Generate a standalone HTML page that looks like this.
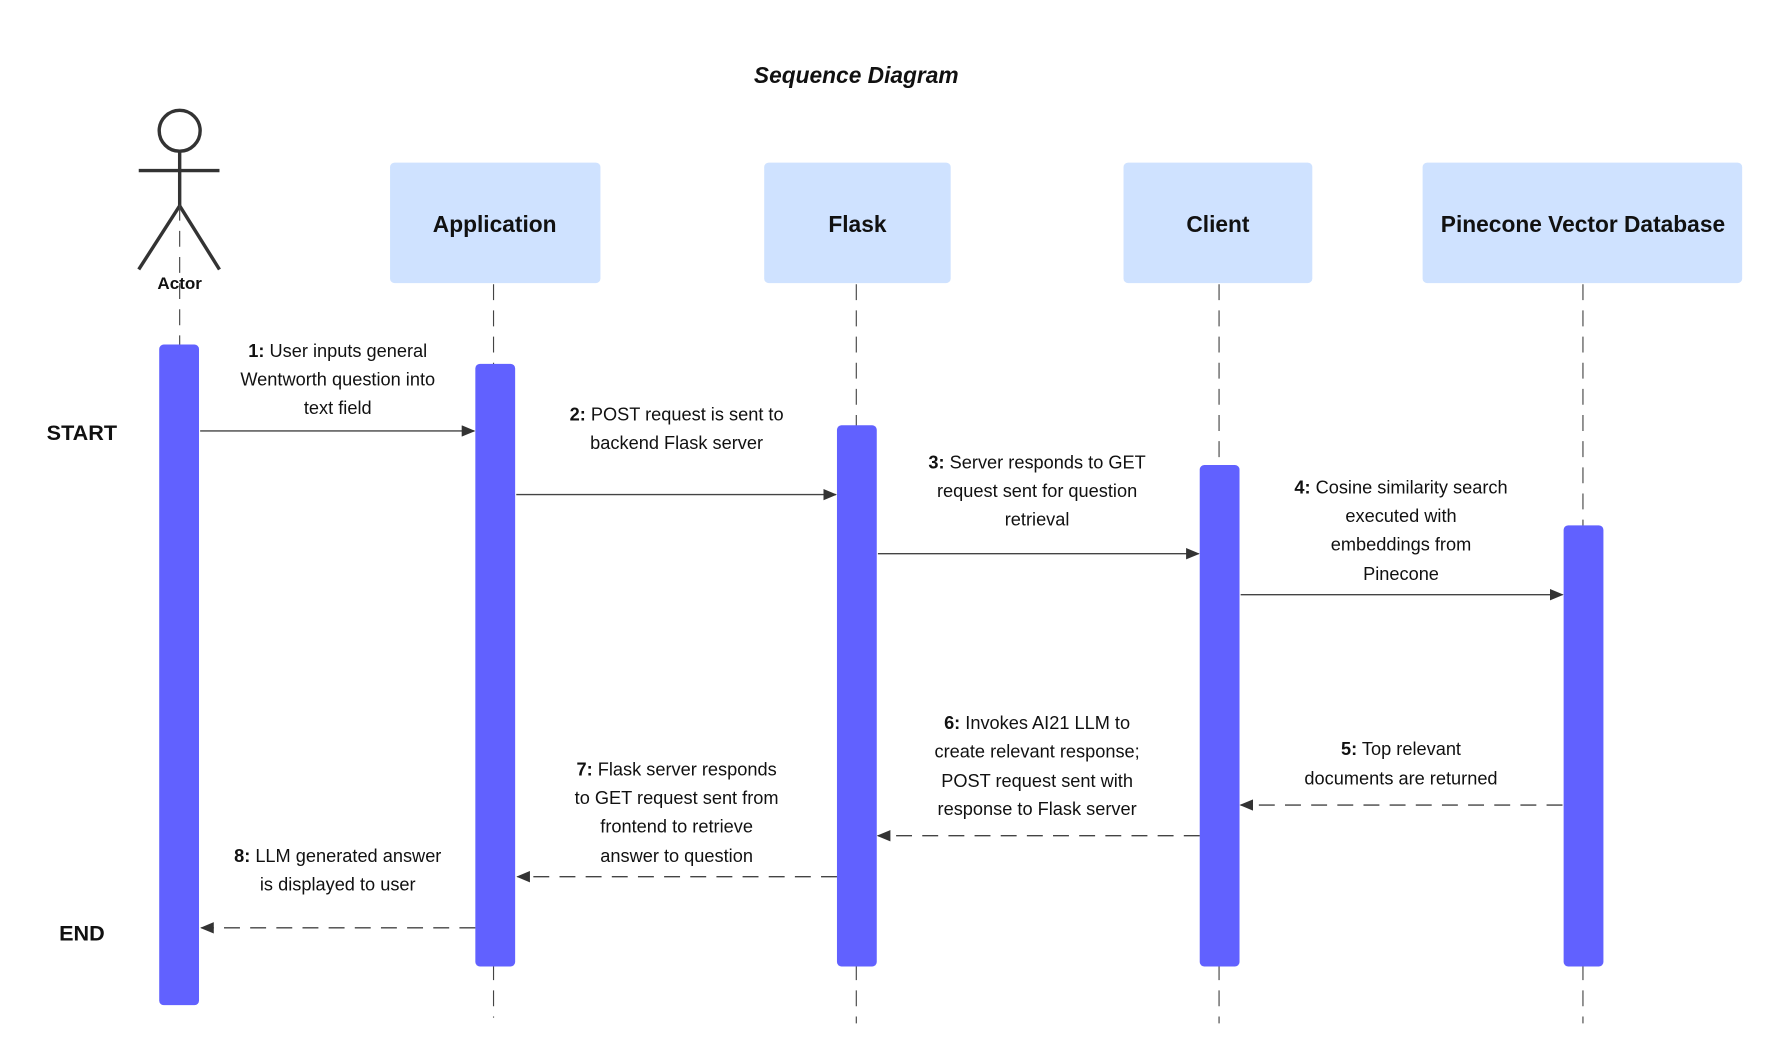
<!DOCTYPE html>
<html><head><meta charset="utf-8"><style>
html,body{margin:0;padding:0;background:#fff;width:1774px;height:1062px;overflow:hidden}
svg{display:block}
text{font-family:"Liberation Sans",sans-serif;fill:#111}
.l{font-size:16px;text-anchor:middle}
.b{font-weight:bold}
</style></head><body>
<svg width="1774" height="1062" viewBox="0 0 1560 934" preserveAspectRatio="none" xmlns="http://www.w3.org/2000/svg">
<defs><marker id="a" markerWidth="12" markerHeight="10" refX="11" refY="5" orient="auto" markerUnits="userSpaceOnUse"><path d="M0,0 L12,5 L0,10 z" fill="#333"/></marker></defs>
<rect width="1560" height="934" fill="#fff"/>
<text x="753" y="73" text-anchor="middle" style="font-size:20px;font-weight:bold;font-style:italic">Sequence Diagram</text>
<!-- actor -->
<g stroke="#333" stroke-width="3" fill="none">
<circle cx="158" cy="115" r="18"/>
<line x1="158" y1="133" x2="158" y2="181"/>
<line x1="122" y1="150" x2="193" y2="150"/>
<line x1="158" y1="181" x2="122" y2="237"/>
<line x1="158" y1="181" x2="193" y2="237"/>
</g>
<text x="158" y="254" text-anchor="middle" class="b" style="font-size:15px">Actor</text>
<!-- boxes -->
<g fill="#cfe2ff">
<rect x="343" y="143" width="185" height="106" rx="4"/>
<rect x="672" y="143" width="164" height="106" rx="4"/>
<rect x="988" y="143" width="166" height="106" rx="4"/>
<rect x="1251" y="143" width="281" height="106" rx="4"/>
</g>
<g class="b" style="font-size:20px" text-anchor="middle">
<text x="435" y="204">Application</text>
<text x="754" y="204">Flask</text>
<text x="1071" y="204">Client</text>
<text x="1392" y="204">Pinecone Vector Database</text>
</g>
<!-- lifelines -->
<g stroke="#444" stroke-width="1" stroke-dasharray="14,9">
<line x1="158" y1="180" x2="158" y2="303"/>
<line x1="434" y1="250" x2="434" y2="895"/>
<line x1="753" y1="250" x2="753" y2="900"/>
<line x1="1072" y1="250" x2="1072" y2="900"/>
<line x1="1392" y1="250" x2="1392" y2="900"/>
</g>
<!-- bars -->
<g fill="#6161ff">
<rect x="140" y="303" width="35" height="581" rx="4"/>
<rect x="418" y="320" width="35" height="530" rx="4"/>
<rect x="736" y="374" width="35" height="476" rx="4"/>
<rect x="1055" y="409" width="35" height="441" rx="4"/>
<rect x="1375" y="462" width="35" height="388" rx="4"/>
</g>
<text x="72" y="387" text-anchor="middle" class="b" style="font-size:19px">START</text>
<text x="72" y="827" text-anchor="middle" class="b" style="font-size:19px">END</text>
<!-- arrows -->
<g stroke="#444" stroke-width="1.2" marker-end="url(#a)">
<line x1="176" y1="379" x2="417" y2="379"/>
<line x1="454" y1="435" x2="735" y2="435"/>
<line x1="772" y1="487" x2="1054" y2="487"/>
<line x1="1091" y1="523" x2="1374" y2="523"/>
</g>
<g stroke="#444" stroke-width="1.2" stroke-dasharray="14,9" marker-end="url(#a)">
<line x1="1374" y1="708" x2="1091" y2="708"/>
<line x1="1055" y1="735" x2="772" y2="735"/>
<line x1="736" y1="771" x2="455" y2="771"/>
<line x1="418" y1="816" x2="177" y2="816"/>
</g>
<!-- labels -->
<text class="l" x="297" y="314"><tspan class="b">1:</tspan> User inputs general</text>
<text class="l" x="297" y="339">Wentworth question into</text>
<text class="l" x="297" y="364">text field</text>
<text class="l" x="595" y="370"><tspan class="b">2:</tspan> POST request is sent to</text>
<text class="l" x="595" y="395">backend Flask server</text>
<text class="l" x="912" y="412"><tspan class="b">3:</tspan> Server responds to GET</text>
<text class="l" x="912" y="437">request sent for question</text>
<text class="l" x="912" y="462">retrieval</text>
<text class="l" x="1232" y="434"><tspan class="b">4:</tspan> Cosine similarity search</text>
<text class="l" x="1232" y="459">executed with</text>
<text class="l" x="1232" y="484">embeddings from</text>
<text class="l" x="1232" y="510">Pinecone</text>
<text class="l" x="1232" y="664"><tspan class="b">5:</tspan> Top relevant</text>
<text class="l" x="1232" y="690">documents are returned</text>
<text class="l" x="912" y="641"><tspan class="b">6:</tspan> Invokes AI21 LLM to</text>
<text class="l" x="912" y="666">create relevant response;</text>
<text class="l" x="912" y="692">POST request sent with</text>
<text class="l" x="912" y="717">response to Flask server</text>
<text class="l" x="595" y="682"><tspan class="b">7:</tspan> Flask server responds</text>
<text class="l" x="595" y="707">to GET request sent from</text>
<text class="l" x="595" y="732">frontend to retrieve</text>
<text class="l" x="595" y="758">answer to question</text>
<text class="l" x="297" y="758"><tspan class="b">8:</tspan> LLM generated answer</text>
<text class="l" x="297" y="783">is displayed to user</text>
</svg>
</body></html>
